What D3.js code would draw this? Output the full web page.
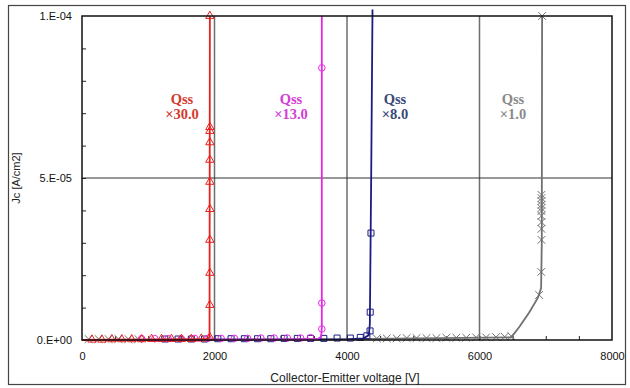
<!DOCTYPE html>
<html><head><meta charset="utf-8">
<script src="https://cdn.jsdelivr.net/npm/d3@7"></script>
<style>body{margin:0;background:#fff}svg{display:block}</style>
</head><body>
<svg id="c" width="630" height="388"></svg>
<script>
// ---- data ----
const xTicks = [0, 2000, 4000, 6000, 8000];
const yTicks = [0, 5e-5, 1e-4];
const yTickLabels = ["0.E+00", "5.E-05", "1.E-04"];
const seriesNames = ["Qss ×30.0", "Qss ×13.0", "Qss ×8.0", "Qss ×1.0"];

// line points (V, Jc)
const q30V = [0, 1000, 1900, 1925, 1930];
const q30J = [0, 1e-7, 3e-7, 1e-6, 1e-4];
const q13V = [0, 3000, 3560, 3610, 3620, 3620];
const q13J = [0, 1e-7, 3e-7, 1e-6, 4e-6, 1e-4];
const q8V = [0, 4000, 4250, 4330, 4345, 4350, 4365, 4385];
const q8J = [0, 2e-7, 5e-7, 1.5e-6, 5e-6, 1.7e-5, 5e-5, 1.02e-4];
const q1V = [0, 4000, 6480, 6600, 6750, 6880, 6930, 6940, 6945];
const q1J = [0, 3e-7, 8e-7, 4e-6, 8.5e-6, 1.3e-5, 1.6e-5, 3e-5, 1e-4];

// markers (V, Jc)
const q30mV = [1930,1930,1930,1930,1930,1930,1930,1930,1930,1930,1930, 150,300,450,600,750,900,1050,1200,1350,1500,1650,1800];
const q30mJ = [1e-4,6.57e-5,6.45e-5,6.1e-5,5.56e-5,4.88e-5,4.04e-5,3.09e-5,2.07e-5,1.08e-5,8e-7, 1e-7,1e-7,2e-7,2e-7,2e-7,2e-7,3e-7,3e-7,3e-7,3e-7,3e-7,4e-7];
const q13mV = [3620,3620,3620, 900,1100,1300,1500,1700,1900,2100,2300,2500,2700,2900,3100,3300,3450];
const q13mJ = [8.4e-5,1.14e-5,3.4e-6, 4e-7,4e-7,4e-7,4e-7,5e-7,5e-7,5e-7,5e-7,5e-7,6e-7,6e-7,6e-7,6e-7,7e-7];
const q8mV = [4362,4350,4348, 1250,1450,1650,1850,2050,2250,2450,2650,2850,3050,3250,3450,3650,3850,4050,4200,4300];
const q8mJ = [3.3e-5,8.6e-6,2.8e-6, 3e-7,3e-7,3e-7,3e-7,4e-7,4e-7,4e-7,4e-7,4e-7,5e-7,5e-7,5e-7,5e-7,6e-7,6e-7,8e-7,1.3e-6];
const q1mV = [6945,6935,6935,6935,6935,6935,6935,6935,6935,6935,6935,6932,6900, 100,250,400,550,700,850, 4450,4600,4750,4900,5050,5200,5350,5500,5650,5800,5950,6100,6250,6380,6480];
const q1mJ = [1e-4,4.48e-5,4.38e-5,4.29e-5,4.17e-5,4.07e-5,3.98e-5,3.83e-5,3.64e-5,3.43e-5,3.09e-5,2.1e-5,1.39e-5, 3e-7,3e-7,3e-7,3e-7,3e-7,3e-7, 5e-7,5e-7,5e-7,6e-7,6e-7,6e-7,6e-7,7e-7,7e-7,7e-7,8e-7,8e-7,9e-7,1e-6,1.2e-6];

// ---- layout ----
const svg = d3.select("#c");
const L = 82, T = 16, R = 612, B = 340;
const x = d3.scaleLinear().domain([0, 8000]).range([L, R]);
const y = d3.scaleLinear().domain([0, 1e-4]).range([B, T]);

// outer frame
svg.append("rect").attr("x", 8.5).attr("y", 5.5).attr("width", 617).attr("height", 379)
  .attr("fill", "none").attr("stroke", "#444").attr("stroke-width", 1.2);

svg.append("clipPath").attr("id", "pc").append("rect")
  .attr("x", L - 6).attr("y", 6).attr("width", R - L + 12).attr("height", B - 6 + 6);

// grid
const g = svg.append("g");
g.selectAll("line.vg").data(xTicks.slice(1, -1)).join("line")
  .attr("x1", d => x(d)).attr("x2", d => x(d)).attr("y1", T).attr("y2", B)
  .attr("stroke", "#6e6e6e").attr("stroke-width", 1.5);
g.selectAll("line.hg").data([5e-5]).join("line")
  .attr("x1", L).attr("x2", R).attr("y1", d => y(d)).attr("y2", d => y(d))
  .attr("stroke", "#333").attr("stroke-width", 1.2);

// minor ticks via axes
const xMinor = d3.range(500, 8000, 500);
const yMinor = d3.range(1e-5, 1e-4, 1e-5);
svg.append("g").attr("transform", `translate(0,${B})`)
  .call(d3.axisBottom(x).tickValues(xMinor).tickSize(-4).tickFormat(""))
  .call(a => a.select(".domain").remove())
  .selectAll("line").attr("stroke", "#222");
svg.append("g").attr("transform", `translate(${L},0)`)
  .call(d3.axisLeft(y).tickValues(yMinor).tickSize(-4).tickFormat(""))
  .call(a => a.select(".domain").remove())
  .selectAll("line").attr("stroke", "#222");

// tick labels
svg.append("g").attr("transform", `translate(0,${B})`)
  .call(d3.axisBottom(x).tickValues(xTicks).tickSize(0).tickPadding(12).tickFormat(d3.format("d")))
  .call(a => a.select(".domain").remove())
  .selectAll("text").attr("font-family", "Liberation Sans, Arial").attr("font-size", 11).attr("fill", "#111");
svg.append("g").attr("transform", `translate(${L},0)`)
  .call(d3.axisLeft(y).tickValues(yTicks).tickSize(0).tickPadding(10).tickFormat((d, i) => yTickLabels[i]))
  .call(a => a.select(".domain").remove())
  .selectAll("text").attr("font-family", "Liberation Sans, Arial").attr("font-size", 11).attr("fill", "#111");

// axis titles
svg.append("text").attr("x", 345).attr("y", 382).attr("text-anchor", "middle")
  .attr("font-family", "Liberation Sans, Arial").attr("font-size", 12).attr("fill", "#222")
  .text("Collector-Emitter voltage [V]");
svg.append("text").attr("transform", "translate(20,178) rotate(-90)").attr("text-anchor", "middle")
  .attr("font-family", "Liberation Sans, Arial").attr("font-size", 11).attr("fill", "#222")
  .text("Jc [A/cm2]");

// series
const series = [
  {V: q30V, J: q30J, mV: q30mV, mJ: q30mJ, color: "#e8201c", sym: d3.symbolTriangle, size: 30, lx: 182, tc: "#d23a30"},
  {V: q13V, J: q13J, mV: q13mV, mJ: q13mJ, color: "#e628e6", sym: d3.symbolCircle, size: 34, lx: 291, tc: "#d63cd6"},
  {V: q8V, J: q8J, mV: q8mV, mJ: q8mJ, color: "#1c1c80", sym: d3.symbolSquare, size: 36, lx: 395, tc: "#3a4a78"},
  {V: q1V, J: q1J, mV: q1mV, mJ: q1mJ, color: "#707070", sym: d3.symbolTimes, size: 40, lx: 513, tc: "#8a8a8a"}
];
const pg = svg.append("g").attr("clip-path", "url(#pc)");
const line = d3.line().x(d => x(d[0])).y(d => y(d[1]));
series.slice().reverse().forEach(s => {
  const pts = s.V.map((v, i) => [v, s.J[i]]);
  pg.append("path").attr("d", line(pts)).attr("fill", "none")
    .attr("stroke", s.color).attr("stroke-width", 1.8);
  const mk = s.mV.map((v, i) => [v, s.mJ[i]]);
  pg.selectAll(null).data(mk).join("path")
    .attr("transform", d => `translate(${x(d[0])},${y(d[1])})`)
    .attr("d", d3.symbol().type(s.sym).size(s.size)())
    .attr("fill", "none")
    .attr("stroke", s.color).attr("stroke-width", 1);
});

// plot frame
svg.append("rect").attr("x", L).attr("y", T).attr("width", R - L).attr("height", B - T)
  .attr("fill", "none").attr("stroke", "#111").attr("stroke-width", 1.5);

// labels
series.forEach((s, i) => {
  const parts = seriesNames[i].split(" ");
  const t = svg.append("text").attr("text-anchor", "middle")
    .attr("font-family", "Liberation Serif, Times New Roman, serif").attr("font-size", 14.5)
    .attr("font-weight", "bold").attr("fill", s.tc);
  t.append("tspan").attr("x", s.lx).attr("y", 104).text(parts[0]);
  t.append("tspan").attr("x", s.lx).attr("y", 119).text(parts[1]);
});
</script>
</body></html>
